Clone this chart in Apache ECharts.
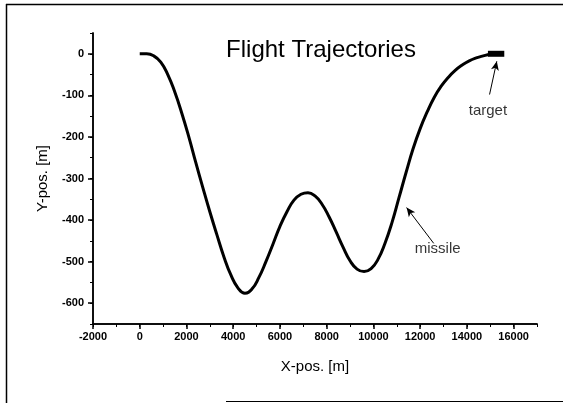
<!DOCTYPE html>
<html>
<head>
<meta charset="utf-8">
<script src="https://cdn.jsdelivr.net/npm/echarts@6/dist/echarts.min.js"></script>
<style>html,body{margin:0;padding:0;background:#fff}#c{width:563px;height:403px}</style>
</head>
<body>
<div id="c"></div>
<script>
// Missile trajectory (x in m, y in m)
const missileX = [0, 300, 600, 900, 1200, 1500, 1800, 2100, 2400, 2700, 3000, 3300, 3600, 3900, 4200, 4500, 4800, 5100, 5400, 5700, 6000, 6300, 6600, 6900, 7200, 7500, 7800, 8100, 8400, 8700, 9000, 9300, 9600, 9900, 10200, 10500, 10800, 11100, 11400, 11700, 12000, 12300, 12600, 12900, 13200, 13500, 13800, 14100, 14400, 14700, 15000, 15200];
const missileY = [0, 0, -5, -20, -50, -92, -143, -200, -262, -322, -380, -435, -488, -532, -563, -576, -566, -538, -500, -458, -415, -380, -352, -338, -334, -342, -362, -392, -428, -465, -498, -518, -524, -517, -494, -455, -405, -345, -285, -228, -180, -140, -105, -78, -57, -40, -27, -17, -10, -5, -1, 0];
// Target block
const targetX = [14900, 15600];
const targetY = [0, 0];
// Annotations
const labelNames = ['target', 'missile'];
const labelX = [14900, 12750];
const labelY = [-138, -470];
const arrowFromX = [14970, 12580];
const arrowFromY = [-98, -456];
const arrowToX = [15280, 11420];
const arrowToY = [-18, -370];
// Tick labels
const xTicks = [-2000, 0, 2000, 4000, 6000, 8000, 10000, 12000, 14000, 16000];
const yTicks = [0, -100, -200, -300, -400, -500, -600];

const chart = echarts.init(document.getElementById('c'), null, {renderer: 'canvas'});
const font = 'Liberation Sans, Arial, sans-serif';
const axisCommon = {
  axisLine: {show: true, onZero: false, lineStyle: {color: '#000', width: 1.5}},
  splitLine: {show: false}
};
const plain = v => String(v);
const option = {
  backgroundColor: '#fff',
  animation: false,
  title: {
    text: 'Flight Trajectories', left: 316, top: 33, textAlign: 'center',
    textStyle: {fontFamily: font, fontSize: 24, fontWeight: 'normal', color: '#000'}
  },
  grid: {left: 93, right: 26, top: 33, bottom: 79, containLabel: false},
  xAxis: [
    Object.assign({
      type: 'value', min: -2000, max: 17000, interval: 2000, position: 'bottom',
      name: 'X-pos. [m]', nameLocation: 'middle', nameGap: 35,
      nameTextStyle: {fontFamily: font, fontSize: 15, color: '#000'},
      axisTick: {show: true, length: 5, lineStyle: {color: '#000', width: 1.5}, customValues: xTicks},
      axisLabel: {customValues: xTicks, formatter: plain, fontFamily: font, fontSize: 11, fontWeight: 'bold', color: '#000', margin: 7}
    }, axisCommon),
    Object.assign({
      type: 'value', min: -2000, max: 17000, interval: 1000, position: 'bottom',
      axisTick: {show: true, length: 3, lineStyle: {color: '#000', width: 1}},
      axisLabel: {show: false}
    }, axisCommon)
  ],
  yAxis: [
    Object.assign({
      type: 'value', min: -650, max: 50, interval: 50, position: 'left',
      name: 'Y-pos. [m]', nameLocation: 'middle', nameGap: 43, nameRotate: 90,
      nameTextStyle: {fontFamily: font, fontSize: 15, color: '#000'},
      axisTick: {show: true, length: 5, lineStyle: {color: '#000', width: 1.5}, customValues: yTicks},
      axisLabel: {customValues: yTicks, formatter: plain, fontFamily: font, fontSize: 11, fontWeight: 'bold', color: '#000', margin: 9}
    }, axisCommon),
    Object.assign({
      type: 'value', min: -650, max: 50, interval: 50, position: 'left',
      axisTick: {show: true, length: 3, lineStyle: {color: '#000', width: 1}},
      axisLabel: {show: false}
    }, axisCommon)
  ],
  series: [
    {
      name: 'missile', type: 'line', smooth: true, showSymbol: false, symbol: 'none',
      xAxisIndex: 0, yAxisIndex: 0,
      lineStyle: {color: '#000', width: 3},
      data: missileX.map((x, i) => [x, missileY[i]])
    },
    {
      name: 'target', type: 'line', showSymbol: false, symbol: 'none',
      lineStyle: {color: '#000', width: 6, cap: 'butt'},
      data: targetX.map((x, i) => [x, targetY[i]])
    },
    {
      name: 'annotations', type: 'scatter', symbolSize: 0,
      label: {show: true, position: 'inside', formatter: p => p.data[2], fontFamily: font, fontSize: 15, color: '#000', textBorderWidth: 0},
      data: labelX.map((x, i) => [x, labelY[i], labelNames[i]]),
      markLine: {
        silent: true, symbol: ['none', 'arrow'], symbolSize: [6, 9],
        lineStyle: {color: '#000', width: 1, type: 'solid'}, label: {show: false},
        data: arrowFromX.map((x, i) => [{coord: [x, arrowFromY[i]]}, {coord: [arrowToX[i], arrowToY[i]]}])
      }
    }
  ],
  graphic: [
    {type: 'line', shape: {x1: 6.5, y1: 4, x2: 6.5, y2: 403}, style: {stroke: '#000', lineWidth: 1.5}},
    {type: 'line', shape: {x1: 6, y1: 4.5, x2: 563, y2: 4.5}, style: {stroke: '#000', lineWidth: 1.5}},
    {type: 'line', shape: {x1: 226, y1: 401.5, x2: 563, y2: 401.5}, style: {stroke: '#000', lineWidth: 1}}
  ]
};
chart.setOption(option);
</script>
</body>
</html>
